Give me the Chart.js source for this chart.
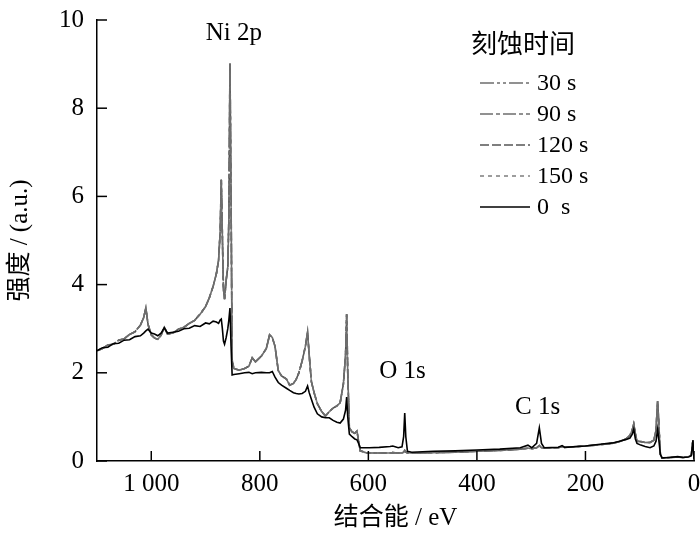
<!DOCTYPE html>
<html>
<head>
<meta charset="utf-8">
<script src="https://cdn.jsdelivr.net/npm/chart.js@4.4.1/dist/chart.umd.min.js"></script>
<style>
  html, body { margin: 0; padding: 0; background: #fff; }
</style>
</head>
<body>
<canvas id="xps" width="700" height="537"></canvas>
<script>
// 结合能 (eV), 从高到低
const energyEV = [
  1100, 1090, 1080, 1070, 1060, 1050, 1040, 1030, 1020, 1014,
  1010, 1006, 1000, 994, 988, 982, 976, 970, 960, 950,
  940, 930, 920, 910, 900, 893, 886, 880, 876, 873,
  871, 869, 867, 865, 862, 859, 857, 855, 853, 851,
  848, 838, 828, 820, 814, 808, 797, 788, 782, 777,
  772, 766, 760, 751, 745, 738, 733, 728, 722, 716,
  712, 709, 705, 700, 694, 686, 679, 672, 665, 658,
  652, 646, 642, 640, 638, 635, 630, 625, 621, 618,
  615, 605, 598, 580, 560, 555, 545, 538, 535, 533,
  531, 528, 520, 480, 440, 400, 358, 320, 306, 299,
  290, 285, 281, 276, 250, 243, 238, 200, 173, 150,
  137, 125, 118, 114, 111, 108, 105, 98, 90, 81,
  74, 70, 67, 65, 62, 59, 45, 30, 20, 10,
  5, 2, 0
];

// 未刻蚀 (0 s)
const intensity0s = [
  2.50, 2.57, 2.58, 2.66, 2.67, 2.74, 2.75, 2.82, 2.84, 2.90,
  2.95, 2.99, 2.90, 2.88, 2.84, 2.90, 3.02, 2.90, 2.92, 2.94,
  3.00, 3.01, 3.07, 3.05, 3.13, 3.11, 3.17, 3.15, 3.12, 3.20,
  3.22, 3.00, 2.72, 2.65, 2.80, 3.00, 3.20, 3.47, 2.60, 1.95,
  1.96, 1.98, 2.00, 2.01, 1.98, 2.00, 2.01, 2.00, 2.00, 2.03,
  1.90, 1.78, 1.72, 1.65, 1.60, 1.55, 1.53, 1.52, 1.53, 1.58,
  1.70, 1.55, 1.40, 1.22, 1.07, 1.00, 0.98, 0.98, 0.92, 0.88,
  0.86, 0.95, 1.15, 1.45, 1.00, 0.61, 0.55, 0.50, 0.48, 0.40,
  0.30, 0.30, 0.30, 0.31, 0.33, 0.34, 0.30, 0.32, 0.55, 1.09,
  0.55, 0.22, 0.20, 0.22, 0.23, 0.25, 0.27, 0.30, 0.36, 0.30,
  0.40, 0.75, 0.40, 0.30, 0.31, 0.35, 0.31, 0.34, 0.38, 0.41,
  0.45, 0.49, 0.52, 0.60, 0.72, 0.50, 0.40, 0.36, 0.33, 0.30,
  0.34, 0.45, 0.72, 0.50, 0.15, 0.07, 0.08, 0.10, 0.08, 0.09,
  0.12, 0.47, 0.05
];

// 刻蚀后 (30/90/120/150 s 在图中几乎重合)
const intensityEtched = [
  2.50, 2.55, 2.63, 2.65, 2.74, 2.77, 2.87, 2.93, 3.08, 3.25,
  3.47, 3.10, 2.86, 2.79, 2.76, 2.85, 3.03, 2.88, 2.90, 2.99,
  3.03, 3.12, 3.19, 3.33, 3.50, 3.70, 3.96, 4.25, 4.55, 5.20,
  6.38, 5.10, 3.90, 3.67, 4.10, 4.40, 5.50, 9.02, 6.00, 2.30,
  2.10, 2.06, 2.10, 2.15, 2.34, 2.25, 2.38, 2.55, 2.86, 2.80,
  2.60, 2.05, 1.93, 1.86, 1.72, 1.76, 1.85, 2.00, 2.27, 2.60,
  2.92, 2.40, 1.80, 1.55, 1.30, 1.12, 1.02, 1.12, 1.20, 1.25,
  1.32, 1.75, 2.40, 3.33, 2.00, 0.75, 0.66, 0.63, 0.68, 0.45,
  0.23, 0.19, 0.18, 0.18, 0.18, 0.19, 0.18, 0.18, 0.20, 0.24,
  0.20, 0.18, 0.18, 0.19, 0.20, 0.22, 0.24, 0.27, 0.29, 0.28,
  0.30, 0.35, 0.30, 0.29, 0.30, 0.33, 0.31, 0.34, 0.37, 0.40,
  0.44, 0.50, 0.58, 0.70, 0.84, 0.62, 0.45, 0.44, 0.42, 0.42,
  0.47, 0.70, 1.36, 0.90, 0.15, 0.07, 0.08, 0.09, 0.08, 0.10,
  0.13, 0.47, 0.05
];

const etchLabels = ['30 s', '90 s', '120 s', '150 s'];
const energyTicks = [1000, 800, 600, 400, 200, 0];
const energyTickLabels = ['1 000', '800', '600', '400', '200', '0'];
const intensityTicks = [0, 2, 4, 6, 8, 10];

// 峰标注
const peakNames = ['Ni 2p', 'O 1s', 'C 1s'];
const peakEnergies = [848, 537, 288];
const peakLabelHeights = [9.7, 2.02, 1.22];

const FONT = '"Liberation Serif", "Noto Sans CJK SC", serif';

function toPoints(values) {
  return energyEV.map((e, i) => ({ x: e, y: values[i] }));
}

// 线型
const etchStyles = [
  { color: '#6e6e6e', dash: [14, 3, 3, 3, 3, 3] },
  { color: '#6e6e6e', dash: [13, 3, 4, 3] },
  { color: '#555555', dash: [9, 3] },
  { color: '#858585', dash: [4, 4] }
];

const datasets = etchLabels.map((label, i) => ({
  label: label,
  data: toPoints(intensityEtched),
  borderColor: etchStyles[i].color,
  borderDash: etchStyles[i].dash,
  borderWidth: 1.6,
  pointRadius: 0,
  tension: 0,
  order: 1
}));
datasets.push({
  label: '0  s',
  data: toPoints(intensity0s),
  borderColor: '#000000',
  borderDash: [],
  borderWidth: 1.6,
  pointRadius: 0,
  tension: 0,
  order: 0
});

// 朝内的刻度线
const innerTicksPlugin = {
  id: 'innerTicks',
  afterDraw(chart) {
    const ctx = chart.ctx;
    const area = chart.chartArea;
    const xs = chart.scales.x, ys = chart.scales.y;
    const len = 10;
    ctx.save();
    ctx.setLineDash([]);
    ctx.strokeStyle = '#000000';
    ctx.lineWidth = 1.5;
    energyTicks.forEach(v => {
      const px = xs.getPixelForValue(v);
      ctx.beginPath();
      ctx.moveTo(px, area.bottom);
      ctx.lineTo(px, area.bottom - len);
      ctx.stroke();
    });
    intensityTicks.forEach(v => {
      const py = ys.getPixelForValue(v);
      ctx.beginPath();
      ctx.moveTo(area.left, py);
      ctx.lineTo(area.left + len, py);
      ctx.stroke();
    });
    ctx.restore();
  }
};

// 在数据坐标处写峰名
const peakLabelPlugin = {
  id: 'peakLabels',
  afterDatasetsDraw(chart) {
    const { ctx, scales: { x, y } } = chart;
    ctx.save();
    ctx.font = '25px ' + FONT;
    ctx.fillStyle = '#000';
    ctx.textAlign = 'center';
    ctx.textBaseline = 'middle';
    peakNames.forEach((name, i) => {
      ctx.fillText(name, x.getPixelForValue(peakEnergies[i]), y.getPixelForValue(peakLabelHeights[i]));
    });
    ctx.restore();
  }
};

// 图内图例
const insideLegendPlugin = {
  id: 'insideLegend',
  afterDraw(chart) {
    const { ctx } = chart;
    const x0 = 480, x1 = 530, textX = 537, rowY = 83, rowGap = 31;
    ctx.save();
    ctx.fillStyle = '#000';
    ctx.font = '26px ' + FONT;
    ctx.textAlign = 'center';
    ctx.textBaseline = 'middle';
    ctx.fillText('刻蚀时间', 523, 46);
    ctx.font = '24px ' + FONT;
    ctx.textAlign = 'left';
    chart.data.datasets.forEach((ds, i) => {
      const yy = rowY + i * rowGap;
      ctx.strokeStyle = ds.borderColor;
      ctx.lineWidth = ds.borderWidth;
      ctx.setLineDash(ds.borderDash || []);
      ctx.beginPath();
      ctx.moveTo(x0, yy);
      ctx.lineTo(x1, yy);
      ctx.stroke();
      ctx.fillText(ds.label, textX, yy + 1);
    });
    ctx.restore();
  }
};

new Chart(document.getElementById('xps'), {
  type: 'line',
  data: { datasets: datasets },
  plugins: [innerTicksPlugin, peakLabelPlugin, insideLegendPlugin],
  options: {
    responsive: false,
    animation: false,
    layout: { padding: { left: 0, right: 6, top: 20, bottom: 0 } },
    plugins: {
      legend: { display: false },
      tooltip: { enabled: false }
    },
    scales: {
      x: {
        type: 'linear',
        reverse: true,
        min: 0,
        max: 1100,
        afterBuildTicks: s => { s.ticks = energyTicks.map(v => ({ value: v })); },
        afterFit: s => { s.height = 76; s.paddingLeft = 0; s.paddingRight = 0; },
        border: { display: true, color: '#000', width: 1.5 },
        grid: { drawOnChartArea: false, drawTicks: false },
        ticks: {
          color: '#000',
          padding: 8,
          maxRotation: 0,
          font: { family: FONT, size: 25 },
          callback: v => energyTickLabels[energyTicks.indexOf(v)]
        },
        title: {
          display: true,
          text: '结合能 / eV',
          color: '#000',
          font: { family: FONT, size: 25 },
          padding: { top: 0, bottom: 4 }
        }
      },
      y: {
        min: 0,
        max: 10,
        afterBuildTicks: s => { s.ticks = intensityTicks.map(v => ({ value: v })); },
        afterFit: s => { s.width = 97; s.paddingTop = 0; s.paddingBottom = 0; },
        border: { display: true, color: '#000', width: 1.5 },
        grid: { drawOnChartArea: false, drawTicks: false },
        ticks: {
          color: '#000',
          padding: 13,
          font: { family: FONT, size: 25 }
        },
        title: {
          display: true,
          text: '强度 / (a.u.)',
          color: '#000',
          font: { family: FONT, size: 25 },
          padding: { top: 5, bottom: 0 }
        }
      }
    }
  }
});
</script>
</body>
</html>
